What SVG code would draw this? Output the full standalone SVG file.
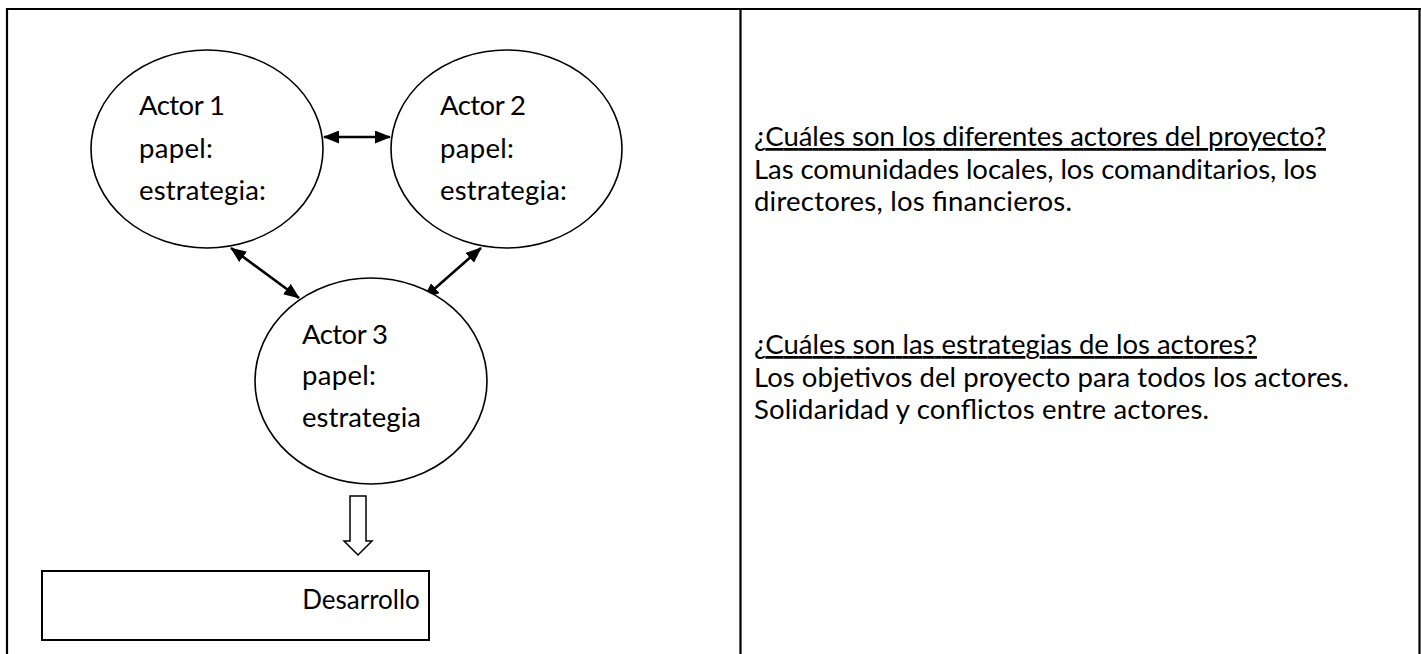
<svg xmlns="http://www.w3.org/2000/svg" width="1421" height="654" viewBox="0 0 1421 654">
<defs>
<style>
.frame{stroke:#000;stroke-width:2.2;fill:none}
.node{fill:#fff;stroke:#000;stroke-width:1.6}
.t{font-family:Lato,"Open Sans","Liberation Sans",sans-serif;font-size:27.5px;fill:#000}
.u{text-decoration:underline}
.conn{stroke:#000;stroke-width:2.6;fill:none}
</style>
<marker id="ah" viewBox="0 0 16 13" markerWidth="16" markerHeight="13" refX="15" refY="6.5" orient="auto-start-reverse" markerUnits="userSpaceOnUse">
<path d="M0,0 L16,6.5 L0,13 z" fill="#000"/>
</marker>
</defs>
<rect width="1421" height="654" fill="#fff"/>
<g id="table">
<line class="frame" x1="6" y1="9" x2="1421" y2="9"/>
<line class="frame" x1="7" y1="8" x2="7" y2="654"/>
<line class="frame" x1="740.5" y1="8" x2="740.5" y2="654"/>
<line class="frame" x1="1419.5" y1="8" x2="1419.5" y2="654"/>
</g>
<g id="connectors">
<line class="conn" x1="324" y1="137" x2="390" y2="137" marker-start="url(#ah)" marker-end="url(#ah)"/>
<line class="conn" x1="231" y1="248" x2="299" y2="298" marker-start="url(#ah)" marker-end="url(#ah)"/>
<line class="conn" x1="481" y1="248" x2="424" y2="298" marker-start="url(#ah)" marker-end="url(#ah)"/>
<polygon points="350,496 366,496 366,541 372,541 358,555 344,541 350,541" fill="#fff" stroke="#000" stroke-width="1.5"/>
</g>
<g id="actor1">
<ellipse class="node" cx="207" cy="149" rx="116" ry="99"/>
<text class="t" x="139" y="115" textLength="86">Actor 1</text>
<text class="t" x="139" y="157.5" textLength="74">papel:</text>
<text class="t" x="139" y="199.5" textLength="127">estrategia:</text>
</g>
<g id="actor2">
<ellipse class="node" cx="506.5" cy="149" rx="115.5" ry="99"/>
<text class="t" x="440" y="115" textLength="86">Actor 2</text>
<text class="t" x="440" y="157.5" textLength="74">papel:</text>
<text class="t" x="440" y="199.5" textLength="127">estrategia:</text>
</g>
<g id="actor3">
<ellipse class="node" cx="371" cy="381" rx="116" ry="103"/>
<text class="t" x="302" y="343.5" textLength="86">Actor 3</text>
<text class="t" x="302" y="385" textLength="74">papel:</text>
<text class="t" x="302" y="426.5" textLength="119">estrategia</text>
</g>
<g id="desarrollo">
<rect x="42" y="571" width="387" height="69" fill="#fff" stroke="#000" stroke-width="2"/>
<text class="t" x="361" y="609" text-anchor="middle" style="font-size:26px">Desarrollo</text>
</g>
<g id="notes">
<text class="t u" x="754" y="146" textLength="572">¿Cuáles son los diferentes actores del proyecto?</text>
<text class="t" x="754" y="178.5" textLength="563">Las comunidades locales, los comanditarios, los</text>
<text class="t" x="754" y="211" textLength="318">directores, los financieros.</text>
<text class="t u" x="754" y="354" textLength="503">¿Cuáles son las estrategias de los actores?</text>
<text class="t" x="754" y="386.5" textLength="595">Los objetivos del proyecto para todos los actores.</text>
<text class="t" x="754" y="419" textLength="455">Solidaridad y conflictos entre actores.</text>
</g>
</svg>
